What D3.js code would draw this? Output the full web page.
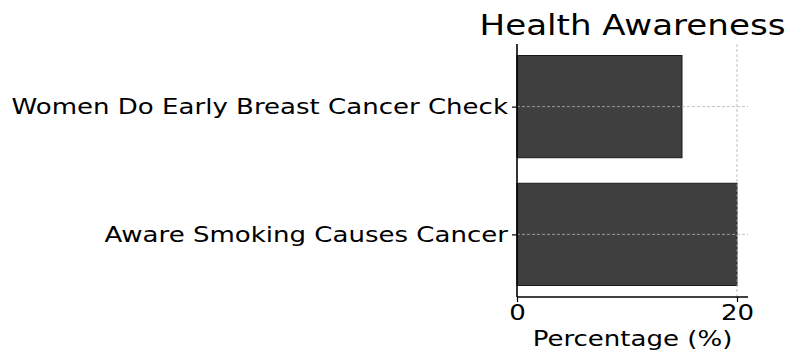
<!DOCTYPE html>
<html lang="en">
<head>
    <meta charset="UTF-8">
    <title>Health Awareness</title>
    <script src="https://d3js.org/d3.v7.min.js"></script>
    <style>
        body { margin: 0; background: #fff; }
        text { font-family: "DejaVu Sans", sans-serif; fill: #000; }
    </style>
</head>
<body>
    <svg class="chart"></svg>
    <script>
        // Data
        const categories = ["Aware Smoking Causes Cancer", "Women Do Early Breast Cancer Check"];
        const values = [20, 15];
        const xTicks = [0, 20];

        const width = 789, height = 351;
        const plot = { left: 517, right: 748, top: 44, bottom: 297 };
        const stretch = 1.24; // the text in the picture is a bit wider than it is tall

        const svg = d3.select(".chart")
            .attr("width", width)
            .attr("height", height);

        const x = d3.scaleLinear().domain([0, 21]).range([plot.left, plot.right]);
        // bars centred on 0, 1 ... like a horizontal bar plot
        const y = d3.scaleLinear().domain([-0.49, 1.49]).range([plot.bottom, plot.top]);
        const barH = 0.8;

        // bars
        svg.selectAll(".bar")
            .data(values)
            .join("rect")
            .attr("class", "bar")
            .attr("x", x(0))
            .attr("y", (d, i) => y(i + barH / 2))
            .attr("width", d => x(d) - x(0))
            .attr("height", (d, i) => y(i - barH / 2) - y(i + barH / 2))
            .attr("fill", "#3f3f3f")
            .attr("stroke", "#1a1a1a")
            .attr("stroke-width", 1);

        // grid (drawn over bars)
        const grid = svg.append("g")
            .attr("stroke", "#b0b0b0")
            .attr("stroke-width", 0.8)
            .attr("stroke-dasharray", "3,2");
        grid.selectAll(".gy")
            .data(categories)
            .join("line")
            .attr("x1", plot.left).attr("x2", plot.right)
            .attr("y1", (d, i) => y(i)).attr("y2", (d, i) => y(i));
        grid.selectAll(".gx")
            .data(xTicks.slice(1))
            .join("line")
            .attr("x1", d => x(d)).attr("x2", d => x(d))
            .attr("y1", plot.top).attr("y2", plot.bottom);

        // axes
        const xAxis = svg.append("g")
            .attr("transform", `translate(0,${plot.bottom})`)
            .call(d3.axisBottom(x).tickValues(xTicks).tickSize(5).tickPadding(3));
        const yAxis = svg.append("g")
            .attr("transform", `translate(${plot.left},0)`)
            .call(d3.axisLeft(y).tickValues([0, 1]).tickFormat(i => categories[i]).tickSize(5).tickPadding(4));

        [xAxis, yAxis].forEach(a => {
            a.select(".domain").attr("stroke", "#000").attr("stroke-width", 1.6);
            a.selectAll(".tick line").attr("stroke", "#000").attr("stroke-width", 1.2);
            a.selectAll(".tick text")
                .attr("font-size", "21px")
                .attr("font-family", "DejaVu Sans")
                .attr("x", function () { return (+this.getAttribute("x") || 0) / stretch; })
                .attr("transform", `scale(${stretch},1)`);
        });
        xAxis.select(".domain").attr("d", `M${plot.left},0H${plot.right}`);
        yAxis.select(".domain").attr("d", `M0,${plot.top}V${plot.bottom}`);

        // titles
        svg.append("text")
            .attr("transform", `translate(${(plot.left + plot.right) / 2},35) scale(${stretch},1)`)
            .attr("text-anchor", "middle")
            .attr("font-size", "27.5px")
            .text("Health Awareness");

        svg.append("text")
            .attr("transform", `translate(${(plot.left + plot.right) / 2},346) scale(${stretch},1)`)
            .attr("text-anchor", "middle")
            .attr("font-size", "21px")
            .text("Percentage (%)");
    </script>
</body>
</html>
